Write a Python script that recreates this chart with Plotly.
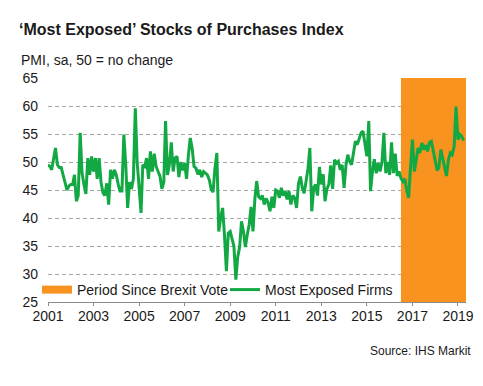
import plotly.graph_objects as go
import pandas as pd

# Monthly PMI values, Jan 2001 - Apr 2019
v2001 = [49.5, 49.2, 48.6, 50.5, 52.5, 49.5, 49.0, 49.0, 47.7, 46.0, 45.0, 45.7]
v2002 = [46.0, 46.0, 47.7, 43.0, 44.0, 55.2, 48.0, 46.0, 44.3, 50.7, 47.7, 51.0]
v2003 = [48.3, 50.7, 47.0, 50.7, 46.4, 44.5, 44.0, 46.2, 42.4, 48.6, 47.0, 48.6]
v2004 = [47.7, 46.0, 44.8, 44.8, 54.9, 49.5, 41.8, 46.4, 45.2, 47.0, 59.6, 50.0]
v2005 = [46.0, 40.9, 49.5, 49.2, 50.7, 47.0, 51.9, 48.3, 51.5, 49.2, 48.3, 47.5]
v2006 = [45.2, 46.4, 57.3, 47.7, 49.5, 53.5, 48.3, 50.7, 51.0, 47.3, 50.0, 48.5]
v2007 = [49.8, 47.0, 51.0, 54.3, 52.5, 49.2, 48.9, 47.8, 48.6, 47.3, 48.3, 48.0]
v2008 = [47.7, 46.8, 45.2, 44.6, 48.9, 51.6, 37.6, 40.0, 41.8, 37.0, 30.5, 37.3]
v2009 = [37.6, 36.2, 35.0, 29.0, 33.0, 34.8, 39.4, 37.6, 34.8, 37.0, 38.8, 42.0]
v2010 = [37.6, 43.5, 46.6, 43.8, 43.5, 44.0, 42.4, 43.5, 42.7, 41.2, 43.8, 41.8]
v2011 = [45.0, 44.8, 43.6, 45.4, 44.0, 44.8, 43.3, 44.8, 42.4, 44.0, 43.6, 41.8]
v2012 = [46.2, 47.4, 45.4, 44.4, 46.4, 48.8, 52.5, 41.2, 45.4, 46.0, 44.0, 49.1]
v2013 = [46.0, 47.8, 43.0, 45.2, 46.0, 49.4, 45.2, 50.4, 49.8, 50.1, 48.6, 49.5]
v2014 = [45.4, 49.5, 51.3, 50.1, 49.5, 51.9, 53.7, 53.1, 54.0, 55.2, 55.5, 53.1]
v2015 = [51.0, 57.3, 44.8, 48.3, 50.5, 48.0, 49.8, 48.3, 50.0, 55.2, 48.0, 50.0]
v2016 = [47.7, 53.5, 48.0, 51.5, 47.5, 48.3, 47.1, 46.5, 47.0, 45.0, 43.6, 49.0]
v2017 = [54.0, 48.3, 50.4, 52.5, 51.6, 53.4, 52.2, 53.0, 51.9, 53.5, 53.7, 51.9]
v2018 = [50.0, 48.5, 49.0, 52.2, 50.7, 49.2, 47.5, 50.4, 51.6, 51.3, 52.8, 59.9]
v2019 = [54.0, 54.9, 54.6, 53.8]

values = (v2001 + v2002 + v2003 + v2004 + v2005 + v2006 + v2007 + v2008 + v2009
          + v2010 + v2011 + v2012 + v2013 + v2014 + v2015 + v2016 + v2017 + v2018 + v2019)
dates = pd.date_range("2001-01-01", periods=len(values), freq="MS")

brexit_start = "2016-07-01"
axis_end = "2019-05-10"
axis_start = "2001-01-01"
y_min, y_max = 25, 65

series_name = "Most Exposed Firms"
period_name = "Period Since Brexit Vote"
title_text = "‘Most Exposed’ Stocks of Purchases Index"
subtitle_text = "PMI, sa, 50 = no change"
source_text = "Source: IHS Markit"

ORANGE = "#F7931E"
GREEN = "#12A844"
FONT = "Liberation Sans, Arial, sans-serif"

fig = go.Figure()

# Brexit period shaded area
fig.add_trace(go.Scatter(
    x=[brexit_start, axis_end, axis_end, brexit_start, brexit_start],
    y=[y_min, y_min, y_max, y_max, y_min],
    fill="toself", fillcolor=ORANGE, mode="lines", line=dict(width=0, color=ORANGE),
    showlegend=False, hoverinfo="skip"))

# legend entry for the period
fig.add_trace(go.Scatter(
    x=[None], y=[None], mode="lines", name=period_name, legend="legend",
    line=dict(color=ORANGE, width=8)))

fig.add_trace(go.Scatter(
    x=dates, y=values, mode="lines", name=series_name, legend="legend2",
    line=dict(color=GREEN, width=3)))

leg_common = dict(orientation="h", yanchor="middle", xanchor="left",
                  bgcolor="rgba(0,0,0,0)", font=dict(size=14), itemwidth=30)

fig.update_layout(
    width=483, height=386,
    margin=dict(l=40, r=25, t=70, b=92),
    paper_bgcolor="white", plot_bgcolor="white",
    font=dict(family=FONT, size=14, color="#1a1a1a"),
    showlegend=True,
    legend=dict(x=(29-40)/418, y=(294-282)/224, **leg_common),
    legend2=dict(x=(217-40)/418, y=(294-282)/224, **leg_common),
    title=dict(text="<b>" + title_text + "</b>", x=11/483, xanchor="left",
               y=1 - 21/386, yanchor="middle", xref="container", yref="container",
               font=dict(size=16, color="#1a1a1a", family=FONT)),
    annotations=[
        dict(text=subtitle_text, xref="paper", yref="paper", x=(11-40)/418, y=(294-51.7)/224,
             xanchor="left", yanchor="middle", showarrow=False, font=dict(size=14)),
        dict(text=source_text, xref="paper", yref="paper", x=(465-40)/418, y=(294-343)/224,
             xanchor="right", yanchor="middle", showarrow=False, font=dict(size=12)),
    ],
)

fig.update_xaxes(
    type="date", range=[axis_start, axis_end],
    tick0="2001-01-01", dtick="M24", tickformat="%Y",
    showgrid=False, showline=True, linecolor="#8c8c8c", linewidth=1,
    ticks="outside", ticklen=3, tickcolor="#8c8c8c", ticklabelstandoff=-2,
    tickfont=dict(size=14), zeroline=False)

fig.update_yaxes(
    range=[y_min, y_max], dtick=5, tick0=25,
    showgrid=True, gridcolor="#a6a6a6", gridwidth=1, griddash="4px,3px",
    showline=False, zeroline=False, ticks="", ticklabelstandoff=9,
    tickfont=dict(size=14))

fig.write_html("out.html")
